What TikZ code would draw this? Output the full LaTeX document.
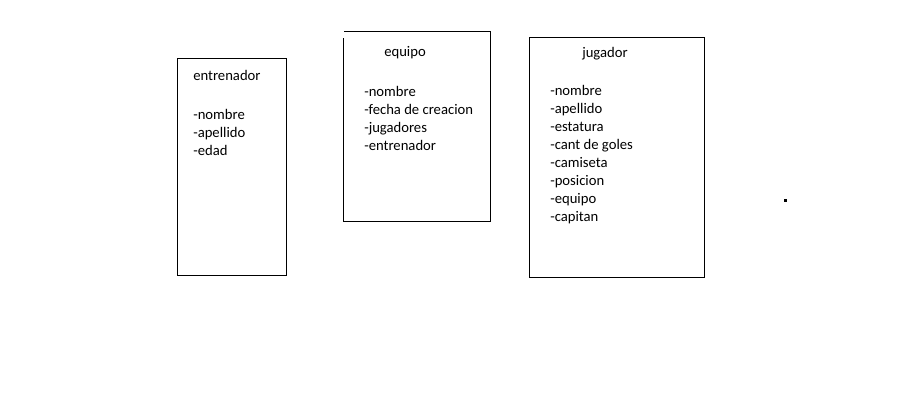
\documentclass[tikz,border=0pt]{standalone}
\usepackage{fontspec}
\setmainfont{Carlito}
\usetikzlibrary{positioning}
\tikzset{caja/.style={draw,line width=0.9pt,inner sep=0pt,anchor=north west},
  texto/.style={anchor=base west,inner sep=0pt,font=\fontsize{11}{13.5}\selectfont}}

\begin{document}
\begin{tikzpicture}[x=0.75pt,y=-0.75pt]
\useasboundingbox (0,0) rectangle (902,404);

% entrenador
\node[caja,minimum width=109*0.75pt,minimum height=217*0.75pt] (entrenador) at (177,58) {};
\node[texto] (tEntrenador) at (193,80) {entrenador};
\foreach \a [count=\i] in {nombre,apellido,edad}
  \node[texto] (en\i) at (193,101+18*\i) {-\a};

% equipo (esquina superior izquierda abierta)
\draw[line width=0.9pt] (343.5,38) -- (343.5,221.5) -- (490.5,221.5) -- (490.5,31.5) -- (343.5,31.5);
\node[texto] (tEquipo) at (384,56) {equipo};
\foreach \a [count=\i] in {nombre,fecha de creacion,jugadores,entrenador}
  \node[texto] (eq\i) at (364,78+18*\i) {-\a};

% jugador
\node[caja,minimum width=175*0.75pt,minimum height=240*0.75pt] (jugador) at (529,37) {};
\node[texto] (tJugador) at (582,57) {jugador};
\foreach \a [count=\i] in {nombre,apellido,estatura,cant de goles,camiseta,posicion,equipo,capitan}
  \node[texto] (ju\i) at (550,77+18*\i) {-\a};

\fill (784,199) rectangle (787,202);
\end{tikzpicture}
\end{document}
